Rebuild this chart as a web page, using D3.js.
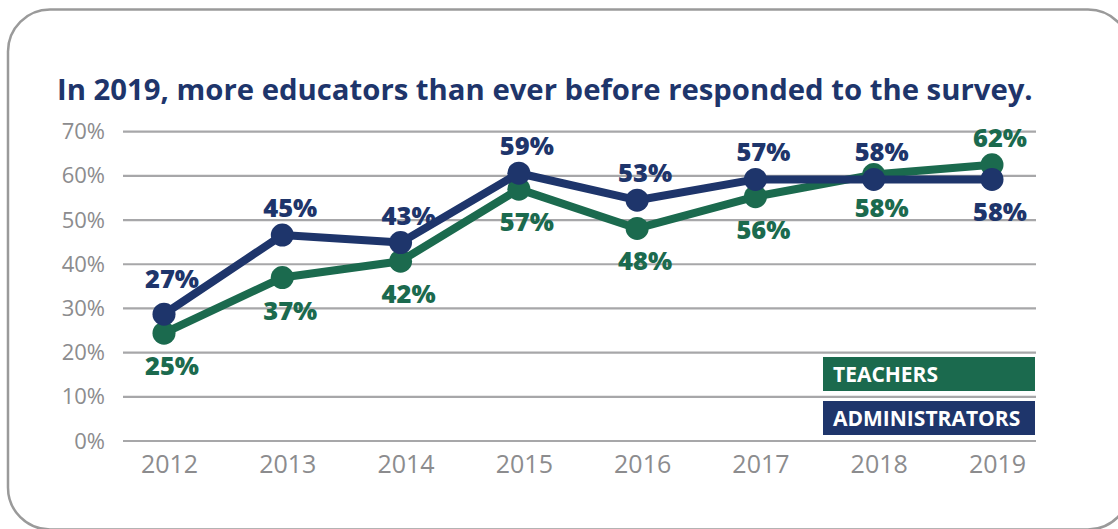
<!DOCTYPE html>
<html>
<head>
<meta charset="utf-8">
<script src="https://cdn.jsdelivr.net/npm/d3@7/dist/d3.min.js"></script>
<style>
  html, body { margin: 0; padding: 0; background: #ffffff; }
  svg { display: block; }
</style>
</head>
<body>
<svg id="chart" width="1118" height="529"></svg>
<script>
const years = ["2012", "2013", "2014", "2015", "2016", "2017", "2018", "2019"];
const teachers = [24.4, 37.0, 40.7, 57.0, 48.1, 55.3, 60.3, 62.5];
const administrators = [28.7, 46.6, 44.9, 60.6, 54.5, 59.2, 59.2, 59.2];
const teacherLabels = ["25%", "37%", "42%", "57%", "48%", "56%", "58%", "62%"];
const adminLabels = ["27%", "45%", "43%", "59%", "53%", "57%", "58%", "58%"];
const yTicks = [0, 10, 20, 30, 40, 50, 60, 70];
const seriesNames = ["TEACHERS", "ADMINISTRATORS"];
const title = "In 2019, more educators than ever before responded to the survey.";

const NAVY = "#1e356b";
const GREEN = "#1b6a4e";
const GRID = "#a7a7a9";
const AXIS_TEXT = "#8c8c8e";
const FONT = "'Open Sans', 'Noto Sans', sans-serif";

const svg = d3.select("#chart");

// frame
svg.append("rect")
  .attr("x", 8).attr("y", 9.5)
  .attr("width", 1122).attr("height", 520)
  .attr("rx", 42).attr("ry", 42)
  .attr("fill", "#fff")
  .attr("stroke", "#9a9a9a")
  .attr("stroke-width", 2.5);

// title
const t = svg.append("text")
  .attr("x", 57).attr("y", 100)
  .attr("font-family", FONT)
  .attr("font-weight", 700)
  .attr("font-size", 29.3)
  .attr("fill", NAVY)
  .text(title);
const tl = t.node().getComputedTextLength();
if (Math.abs(tl - 973) > 4) t.attr("textLength", 973).attr("lengthAdjust", "spacingAndGlyphs");

const x = d3.scalePoint().domain(years).range([164, 992]);
const y = d3.scaleLinear().domain([0, 70]).range([441, 131.7]);

// gridlines
svg.append("g").selectAll("line")
  .data(yTicks).join("line")
  .attr("x1", 123).attr("x2", 1036)
  .attr("y1", d => y(d)).attr("y2", d => y(d))
  .attr("stroke", GRID).attr("stroke-width", 2.2);

// y axis labels
const yAxis = svg.append("g")
  .attr("transform", "translate(123,0)")
  .call(d3.axisLeft(y).tickValues(yTicks).tickFormat(d => d + "%").tickSize(0).tickPadding(18));
yAxis.select(".domain").remove();
yAxis.selectAll("text")
  .attr("font-family", FONT).attr("font-size", 22)
  .attr("fill", AXIS_TEXT);

// x axis labels
const xAxis = svg.append("g")
  .attr("transform", "translate(5,441)")
  .call(d3.axisBottom(x).tickSize(0).tickPadding(14));
xAxis.select(".domain").remove();
xAxis.selectAll("text")
  .attr("font-family", FONT).attr("font-size", 25)
  .attr("fill", AXIS_TEXT);

// lines
const series = [
  { name: seriesNames[0], values: teachers, labels: teacherLabels, color: GREEN, above: i => i === years.length - 1 },
  { name: seriesNames[1], values: administrators, labels: adminLabels, color: NAVY, above: i => i !== years.length - 1 }
];

const line = d3.line().x((d, i) => x(years[i])).y(d => y(d));

series.forEach(s => {
  const g = svg.append("g");
  g.append("path")
    .attr("d", line(s.values))
    .attr("fill", "none")
    .attr("stroke", s.color)
    .attr("stroke-width", 8)
    .attr("stroke-linejoin", "round");
  g.selectAll("circle")
    .data(s.values).join("circle")
    .attr("cx", (d, i) => x(years[i]))
    .attr("cy", d => y(d))
    .attr("r", 11.5)
    .attr("fill", s.color);
});

// data labels
series.forEach(s => {
  svg.append("g").selectAll("text")
    .data(s.values).join("text")
    .attr("x", (d, i) => x(years[i]) + 8)
    .attr("y", (d, i) => y(d) + (s.above(i) ? (i === 0 ? -26 : -18) : 42))
    .attr("text-anchor", "middle")
    .attr("font-family", FONT)
    .attr("font-weight", 800)
    .attr("font-size", 25.5)
    .attr("fill", s.color)
    .text((d, i) => s.labels[i]);
});

// legend
const legend = svg.append("g");
series.forEach((s, i) => {
  const top = 357 + i * 44;
  legend.append("rect")
    .attr("x", 823).attr("y", top)
    .attr("width", 212).attr("height", 34)
    .attr("fill", s.color);
  legend.append("text")
    .attr("x", 833).attr("y", top + 24.5)
    .attr("font-family", FONT)
    .attr("font-weight", 700)
    .attr("font-size", 21)
    .attr("fill", "#ffffff")
    .text(s.name);
});
</script>
</body>
</html>
